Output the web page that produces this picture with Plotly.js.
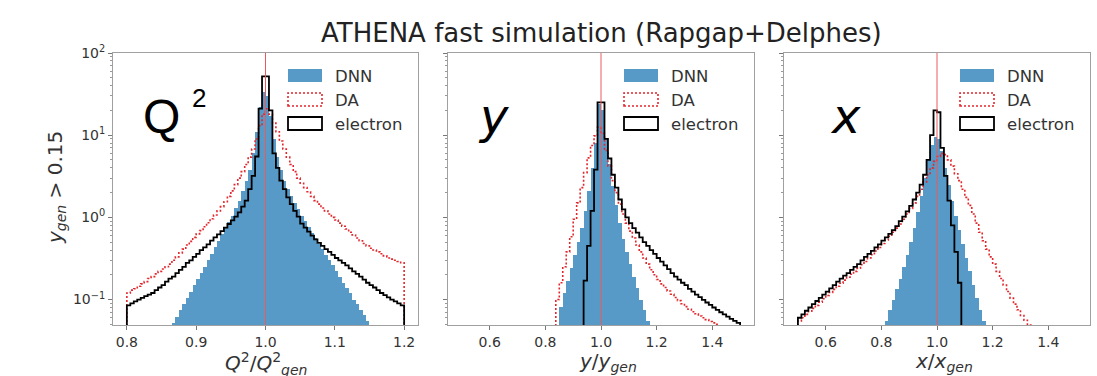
<!DOCTYPE html>
<html>
<head>
<meta charset="utf-8">
<script src="https://cdn.plot.ly/plotly-3.0.1.min.js"></script>
<style>html,body{margin:0;padding:0;background:#fff;}#chart{width:1097px;height:376px;}</style>
</head>
<body>
<div id="chart"></div>
<script>
// ---------------- DATA ----------------
// Panel 1: Q2/Q2gen, 80 bins of width 0.005 starting at 0.8
const q2_lo = 0.8, q2_w = 0.005;
const q2_dnn = [
0,0,0,0,0,0,0,0,0,0,
0,0,0,0.052,0.062,0.074,0.088,0.105,0.125,0.15,
0.18,0.21,0.25,0.30,0.36,0.43,0.52,0.62,0.74,0.88,
1.05,1.3,1.6,2.1,2.8,3.8,6,11,22,34,
30,17,9,5.5,3.8,2.8,2.2,1.8,1.5,1.25,
1.05,0.9,0.76,0.65,0.56,0.48,0.41,0.35,0.30,0.26,
0.22,0.19,0.16,0.14,0.12,0.10,0.088,0.075,0.064,0.055,
0.048,0,0,0,0,0,0,0,0,0];
const q2_da = [
0.12,0.13,0.135,0.145,0.155,0.165,0.18,0.19,0.205,0.22,
0.235,0.25,0.27,0.30,0.33,0.37,0.41,0.46,0.51,0.57,
0.63,0.69,0.77,0.86,0.96,1.07,1.2,1.35,1.55,1.8,
2.1,2.5,3.0,3.6,4.4,5.4,6.8,9,13,18,
21,18,14,11,8.5,6.8,5.4,4.4,3.6,3.0,
2.6,2.3,2.05,1.8,1.6,1.45,1.3,1.2,1.1,1.0,
0.93,0.85,0.78,0.72,0.66,0.61,0.56,0.52,0.48,0.45,
0.42,0.40,0.38,0.36,0.34,0.32,0.31,0.30,0.29,0.28];
const q2_electron = [
0.085,0.09,0.095,0.10,0.105,0.11,0.115,0.12,0.13,0.14,
0.15,0.165,0.18,0.19,0.21,0.23,0.25,0.28,0.30,0.33,
0.36,0.40,0.43,0.47,0.52,0.57,0.62,0.68,0.75,0.83,
0.92,1.02,1.15,1.35,1.6,2.2,3.2,5.5,21,52,
52,20,6,4,2.8,2.2,1.75,1.45,1.2,1.02,
0.84,0.75,0.67,0.6,0.54,0.49,0.45,0.41,0.38,0.35,
0.32,0.3,0.28,0.26,0.24,0.22,0.205,0.19,0.175,0.16,
0.15,0.14,0.13,0.12,0.113,0.106,0.1,0.095,0.09,0.085];

// Panel 2: y/ygen, 80 bins of width 0.0125 starting at 0.5
const y_lo = 0.5, y_w = 0.0125;
const y_dnn = [
0,0,0,0,0,0,0,0,0,0,
0,0,0,0,0,0,0,0,0,0,
0,0,0,0,0,0,0,0,0.08,0.12,
0.17,0.24,0.35,0.5,0.75,1.2,2.1,4,8,24,
20,9,4.5,2.4,1.4,0.85,0.55,0.38,0.27,0.19,
0.14,0.1,0.075,0.055,0,0,0,0,0,0,
0,0,0,0,0,0,0,0,0,0,
0,0,0,0,0,0,0,0,0,0];
const y_da = [
0,0,0,0,0,0,0,0,0,0,
0,0,0,0,0,0,0,0,0,0,
0,0,0,0,0,0,0,0.1,0.16,0.25,
0.38,0.58,0.95,1.5,2.3,3.5,5.3,7.5,9.8,12.5,
10.5,6.5,4.2,2.8,2.0,1.45,1.1,0.85,0.68,0.56,
0.46,0.38,0.32,0.27,0.23,0.2,0.175,0.155,0.14,0.127,
0.116,0.106,0.097,0.089,0.082,0.076,0.071,0.067,0.063,0.06,
0.057,0.054,0.052,0.05,0.048,0.046,0,0,0,0];
const y_electron = [
0,0,0,0,0,0,0,0,0,0,
0,0,0,0,0,0,0,0,0,0,
0,0,0,0,0,0,0,0,0,0,
0,0,0,0,0,0.17,0.45,1.2,3.8,25,
25,9,5.2,3.3,2.3,1.65,1.25,1.0,0.85,0.74,
0.65,0.57,0.5,0.45,0.4,0.36,0.32,0.29,0.26,0.235,
0.21,0.19,0.175,0.16,0.15,0.135,0.125,0.115,0.107,0.099,
0.092,0.086,0.08,0.075,0.07,0.066,0.062,0.058,0.055,0.052];

// Panel 3: x/xgen, 80 bins of width 0.0125 starting at 0.5
const x_lo = 0.5, x_w = 0.0125;
const x_dnn = [
0,0,0,0,0,0,0,0,0,0,
0,0,0,0,0,0,0,0,0,0,
0,0,0,0,0,0.055,0.075,0.1,0.135,0.18,
0.25,0.35,0.5,0.75,1.15,1.8,3,5,7.5,9.5,
9,6.5,4,2.5,1.6,1.05,0.7,0.47,0.32,0.22,
0.15,0.105,0.075,0.055,0,0,0,0,0,0,
0,0,0,0,0,0,0,0,0,0,
0,0,0,0,0,0,0,0,0,0];
const x_da = [
0.055,0.06,0.066,0.072,0.078,0.085,0.093,0.102,0.112,0.122,
0.133,0.145,0.158,0.172,0.187,0.203,0.22,0.24,0.265,0.29,
0.32,0.35,0.39,0.43,0.48,0.53,0.59,0.66,0.74,0.83,
0.95,1.1,1.28,1.5,1.8,2.2,2.7,3.3,4.0,4.8,
5.5,6.0,5.8,5.0,4.2,3.4,2.8,2.2,1.75,1.4,
1.1,0.85,0.66,0.52,0.41,0.33,0.27,0.22,0.18,0.15,
0.125,0.104,0.088,0.075,0.064,0.056,0.049,0,0,0,
0,0,0,0,0,0,0,0,0,0];
const x_electron = [
0.06,0.066,0.073,0.08,0.088,0.096,0.105,0.115,0.125,0.137,
0.15,0.165,0.18,0.195,0.21,0.23,0.25,0.27,0.3,0.33,
0.36,0.39,0.43,0.47,0.52,0.57,0.63,0.7,0.78,0.9,
1.02,1.18,1.38,1.65,2.0,2.5,3.3,5,10,20,
19,7,3.2,1.6,0.8,0.38,0.16,0,0,0,
0,0,0,0,0,0,0,0,0,0,
0,0,0,0,0,0,0,0,0,0,
0,0,0,0,0,0,0,0,0,0];

const q2_ticks = [0.8, 0.9, 1.0, 1.1, 1.2];
const q2_ticklabels = ['0.8', '0.9', '1.0', '1.1', '1.2'];
const yx_ticks = [0.6, 0.8, 1.0, 1.2, 1.4];
const yx_ticklabels = ['0.6', '0.8', '1.0', '1.2', '1.4'];
const log_ticks = [0.1, 1, 10, 100];
const log_ticklabels = ['10<sup>\u22121</sup>', '10<sup>0</sup>', '10<sup>1</sup>', '10<sup>2</sup>'];
const legend_names = ['DNN', 'DA', 'electron'];
const series_labels = ['Q', 'y', 'x'];

// ---------------- STYLE ----------------
const W = 1097, H = 376;
const BLUE = 'rgba(31,119,180,0.75)';
const RED = '#e3262b';
const FONT = 'DejaVu Sans';
const px = x => x / W;
const py = y => 1 - y / H;

function barTrace(lo, w, vals, xa, ya) {
  const xs = [], ys = [];
  vals.forEach((v, i) => { if (v > 0) { xs.push(lo + (i + 0.5) * w); ys.push(v); } });
  return {type: 'bar', x: xs, y: ys, width: w, xaxis: xa, yaxis: ya,
          marker: {color: BLUE, line: {width: 0}}, showlegend: false, hoverinfo: 'skip'};
}
function stepTrace(lo, w, vals, xa, ya, color, dash, width) {
  let f = vals.findIndex(v => v > 0), l = vals.length - 1;
  while (l >= 0 && !(vals[l] > 0)) l--;
  const xs = [lo + f * w], ys = [1e-4];
  for (let i = f; i <= l; i++) { xs.push(lo + i * w); ys.push(vals[i]); }
  xs.push(lo + (l + 1) * w); ys.push(vals[l]);
  xs.push(lo + (l + 1) * w); ys.push(1e-4);
  return {type: 'scatter', mode: 'lines', x: xs, y: ys, xaxis: xa, yaxis: ya,
          line: {shape: 'hv', color: color, dash: dash, width: width},
          showlegend: false, hoverinfo: 'skip'};
}

const data = [
  barTrace(q2_lo, q2_w, q2_dnn, 'x', 'y'),
  stepTrace(q2_lo, q2_w, q2_da, 'x', 'y', RED, '2px,2px', 1.6),
  stepTrace(q2_lo, q2_w, q2_electron, 'x', 'y', '#000', 'solid', 1.8),
  barTrace(y_lo, y_w, y_dnn, 'x2', 'y2'),
  stepTrace(y_lo, y_w, y_da, 'x2', 'y2', RED, '2px,2px', 1.6),
  stepTrace(y_lo, y_w, y_electron, 'x2', 'y2', '#000', 'solid', 1.8),
  barTrace(x_lo, x_w, x_dnn, 'x3', 'y3'),
  stepTrace(x_lo, x_w, x_da, 'x3', 'y3', RED, '2px,2px', 1.6),
  stepTrace(x_lo, x_w, x_electron, 'x3', 'y3', '#000', 'solid', 1.8)
];

const panels = [[113, 418], [448, 754], [784, 1090]];
const yTop = 53, yBot = 325;
const minorVals = [];
[0.01, 0.1, 1, 10].forEach(d => { for (let k = 2; k <= 9; k++) minorVals.push(k * d); });

function xAxis(i, range, tv, tt) {
  return {domain: [px(panels[i][0]), px(panels[i][1])], range: range, anchor: i ? 'y' + (i + 1) : 'y',
          showline: true, mirror: true, linecolor: '#a0a0a0', linewidth: 1,
          ticks: 'outside', ticklen: 4, tickwidth: 1, tickcolor: '#777',
          tickmode: 'array', tickvals: tv, ticktext: tt,
          tickfont: {family: FONT, size: 14, color: '#333'},
          showgrid: false, zeroline: false, fixedrange: true};
}
function yAxis(i) {
  return {domain: [py(yBot), py(yTop)], type: 'log', range: [-1.31, 2], anchor: i ? 'x' + (i + 1) : 'x',
          showline: true, mirror: true, linecolor: '#a0a0a0', linewidth: 1,
          ticks: 'outside', ticklen: 4, tickwidth: 1, tickcolor: '#777',
          tickmode: 'array', tickvals: log_ticks, ticktext: log_ticklabels,
          showticklabels: i === 0,
          minor: {ticks: 'outside', ticklen: 2, tickcolor: '#999', tickmode: 'array', tickvals: minorVals, showgrid: false},
          tickfont: {family: FONT, size: 14, color: '#333'},
          showgrid: false, zeroline: false, fixedrange: true};
}

const shapes = [];
const annotations = [];
panels.forEach((p, i) => {
  const xr = i ? 'x' + (i + 1) : 'x';
  shapes.push({type: 'line', xref: xr, yref: 'paper', x0: 1, x1: 1, y0: py(yBot), y1: py(yTop),
               line: {color: '#ea5a5a', width: 1}, layer: 'above'});
  const R = p[1];
  const rows = [[69, 82], [93, 106], [117, 130]];
  shapes.push({type: 'rect', xref: 'paper', yref: 'paper', x0: px(R - 130), x1: px(R - 96),
               y0: py(rows[0][1]), y1: py(rows[0][0]), fillcolor: BLUE, line: {width: 0}});
  shapes.push({type: 'rect', xref: 'paper', yref: 'paper', x0: px(R - 130), x1: px(R - 96),
               y0: py(rows[1][1]), y1: py(rows[1][0]), fillcolor: 'rgba(0,0,0,0)',
               line: {color: RED, width: 1.6, dash: '2px,2px'}});
  shapes.push({type: 'rect', xref: 'paper', yref: 'paper', x0: px(R - 130), x1: px(R - 96),
               y0: py(rows[2][1]), y1: py(rows[2][0]), fillcolor: 'rgba(0,0,0,0)',
               line: {color: '#000', width: 1.8}});
  rows.forEach((r, k) => {
    annotations.push({xref: 'paper', yref: 'paper', x: px(R - 85), y: py((r[0] + r[1]) / 2 + 1),
                      xanchor: 'left', yanchor: 'middle', showarrow: false, text: legend_names[k],
                      font: {family: FONT, size: 16.5, color: '#333'}});
  });
});

// title
annotations.push({xref: 'paper', yref: 'paper', x: px(601), y: py(33), xanchor: 'center', yanchor: 'middle',
                  showarrow: false, text: 'ATHENA fast simulation (Rapgap+Delphes)',
                  font: {family: FONT, size: 26, color: '#222'}});
// y axis title
annotations.push({xref: 'paper', yref: 'paper', x: px(56), y: py(188), xanchor: 'center', yanchor: 'middle',
                  showarrow: false, textangle: -90, text: '<i>y</i><sub><i>gen</i></sub> > 0.15',
                  font: {family: FONT, size: 20, color: '#333'}});
// x axis titles
const xtitles = ['<i>Q</i><sup>2</sup>/<i>Q</i><sup>2</sup><sub><i>gen</i></sub>',
                 '<i>y</i>/<i>y</i><sub><i>gen</i></sub>', '<i>x</i>/<i>x</i><sub><i>gen</i></sub>'];
const xcent = [266, 608, 944];
xtitles.forEach((t, i) => annotations.push({xref: 'paper', yref: 'paper', x: px(xcent[i]), y: py(348),
  xanchor: 'center', yanchor: 'top', borderpad: 0, showarrow: false, text: t,
  font: {family: FONT, size: 20, color: '#333'}}));
// big labels
annotations.push({xref: 'paper', yref: 'paper', x: px(141), y: py(116), xanchor: 'left', yanchor: 'middle',
                  showarrow: false, text: series_labels[0], font: {family: 'Liberation Sans', size: 48, color: '#000'}});
annotations.push({xref: 'paper', yref: 'paper', x: px(190), y: py(98), xanchor: 'left', yanchor: 'middle',
                  showarrow: false, text: '2', font: {family: 'Liberation Sans', size: 26, color: '#000'}});
annotations.push({xref: 'paper', yref: 'paper', x: px(476), y: py(116), xanchor: 'left', yanchor: 'middle',
                  showarrow: false, text: '<i>' + series_labels[1] + '</i>', font: {family: FONT, size: 48, color: '#000'}});
annotations.push({xref: 'paper', yref: 'paper', x: px(828), y: py(116), xanchor: 'left', yanchor: 'middle',
                  showarrow: false, text: '<i>' + series_labels[2] + '</i>', font: {family: FONT, size: 48, color: '#000'}});

const layout = {
  width: W, height: H, margin: {l: 0, r: 0, t: 0, b: 0},
  paper_bgcolor: '#fff', plot_bgcolor: '#fff',
  bargap: 0, barmode: 'overlay', showlegend: false,
  xaxis: xAxis(0, [0.78, 1.22], q2_ticks, q2_ticklabels),
  xaxis2: xAxis(1, [0.45, 1.55], yx_ticks, yx_ticklabels),
  xaxis3: xAxis(2, [0.45, 1.55], yx_ticks, yx_ticklabels),
  yaxis: yAxis(0), yaxis2: yAxis(1), yaxis3: yAxis(2),
  shapes: shapes, annotations: annotations
};
Plotly.newPlot('chart', data, layout, {displayModeBar: false, staticPlot: true});
</script>
</body>
</html>
